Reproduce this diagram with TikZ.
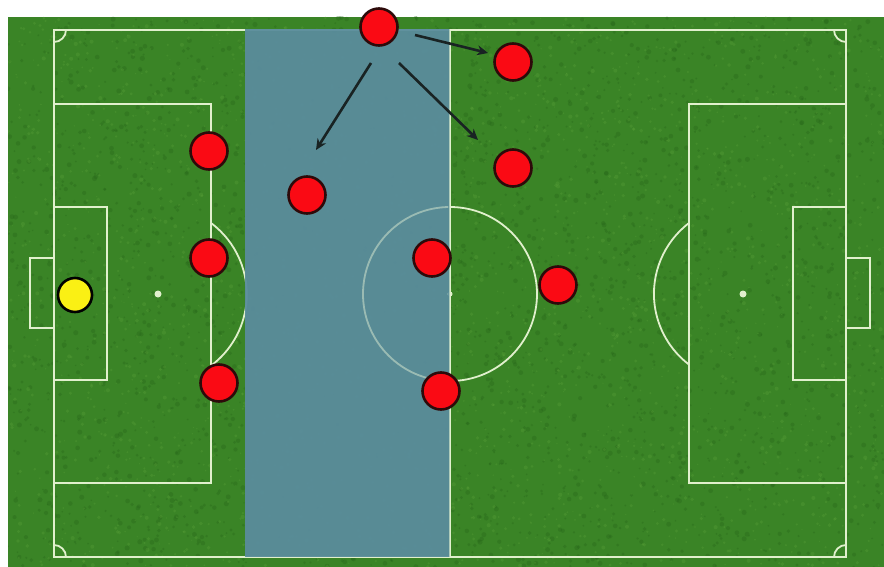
\documentclass[tikz,border=0pt]{standalone}
\usetikzlibrary{arrows.meta}
\definecolor{grass}{RGB}{58,132,38}
\definecolor{grassdark}{RGB}{36,98,24}
\definecolor{grasslight}{RGB}{92,162,58}
\definecolor{pitchline}{RGB}{225,240,205}
\definecolor{strip}{RGB}{90,140,156}
\definecolor{playerred}{RGB}{250,10,20}
\definecolor{playeredge}{RGB}{45,10,10}
\definecolor{keeper}{RGB}{250,240,20}
\definecolor{arrowcol}{RGB}{25,35,35}
\tikzset{
  fieldline/.style={draw=pitchline, line width=1.8pt},
  player/.style={circle, minimum size=37pt, inner sep=0pt, fill=playerred, draw=playeredge, line width=2.6pt},
  goalie/.style={circle, minimum size=34pt, inner sep=0pt, fill=keeper, draw=black, line width=2.6pt},
  runarrow/.style={draw=arrowcol, line width=2.6pt, -{Stealth[length=11pt,width=10pt]}},
  spot/.style={circle, fill=pitchline, inner sep=0pt, minimum size=7pt}
}
\begin{document}
\begin{tikzpicture}[x=1pt,y=-1pt]
\useasboundingbox (0,0) rectangle (884,567);
\fill[white] (0,0) rectangle (884,567);
% grass
\fill[grass] (8,17) rectangle (884,567);
\begin{scope}
\clip (8,17) rectangle (884,567);
\pgfmathsetseed{7}
\foreach \i in {1,...,3000}{
  \pgfmathsetmacro{\xx}{8+876*rnd}
  \pgfmathsetmacro{\yy}{17+550*rnd}
  \pgfmathsetmacro{\rr}{0.8+1.8*rnd}
  \fill[grassdark, opacity=0.3] (\xx,\yy) circle (\rr);
}
\foreach \i in {1,...,2500}{
  \pgfmathsetmacro{\xx}{8+876*rnd}
  \pgfmathsetmacro{\yy}{17+550*rnd}
  \pgfmathsetmacro{\rr}{0.6+1.5*rnd}
  \fill[grasslight, opacity=0.3] (\xx,\yy) circle (\rr);
}
\end{scope}
% outer lines
\draw[fieldline] (54,30) rectangle (846,557);
\draw[fieldline] (450,30) -- (450,557);
\draw[fieldline] (450,294) circle (87);
\node[spot, minimum size=5pt] (cs) at (450,294) {};
% left end
\draw[fieldline] (54,104) -- (211,104) -- (211,483) -- (54,483);
\draw[fieldline] (54,207) -- (107,207) -- (107,380) -- (54,380);
\draw[fieldline] (54,258) -- (30,258) -- (30,328) -- (54,328);
\node[spot] (lps) at (158,294) {};
\draw[fieldline] (211,223) arc[start angle=-53.3, end angle=53.3, radius=89];
% right end
\draw[fieldline] (846,104) -- (689,104) -- (689,483) -- (846,483);
\draw[fieldline] (846,207) -- (793,207) -- (793,380) -- (846,380);
\draw[fieldline] (846,258) -- (870,258) -- (870,328) -- (846,328);
\node[spot] (rps) at (743,294) {};
\draw[fieldline] (689,223) arc[start angle=232.7, end angle=127.3, radius=89];
% corner arcs
\draw[fieldline] (54,42) arc[start angle=90, end angle=0, radius=12];
\draw[fieldline] (834,30) arc[start angle=180, end angle=90, radius=12];
\draw[fieldline] (66,557) arc[start angle=0, end angle=-90, radius=12];
\draw[fieldline] (846,545) arc[start angle=270, end angle=180, radius=12];
% shaded zone
\fill[strip, opacity=0.95] (245,29) rectangle (450,557);
\begin{scope}
\clip (245,29) rectangle (448,557);
\draw[fieldline, opacity=0.45] (450,294) circle (87);
\draw[fieldline, opacity=0.35] (450,294) circle (1.5);
\end{scope}
\draw[fieldline, opacity=0.6] (450,29) -- (450,557);
% players
\node[goalie] (gk) at (75,295) {};
\node[player] (p1) at (379,27) {};
\node[player] (p2) at (513,62) {};
\node[player] (p3) at (513,168) {};
\node[player] (p4) at (209,151) {};
\node[player] (p5) at (307,195) {};
\node[player] (p6) at (209,258) {};
\node[player] (p7) at (432,258) {};
\node[player] (p8) at (558,285) {};
\node[player] (p9) at (219,383) {};
\node[player] (p10) at (441,391) {};
% runs
\coordinate (a1s) at (415,35);
\coordinate (a1e) at (488,53);
\coordinate (a2s) at (371,63);
\coordinate (a2e) at (316,150);
\coordinate (a3s) at (399,63);
\coordinate (a3e) at (478,140);
\draw[runarrow] (a1s) -- (a1e);
\draw[runarrow] (a2s) -- (a2e);
\draw[runarrow] (a3s) -- (a3e);
\end{tikzpicture}
\end{document}
